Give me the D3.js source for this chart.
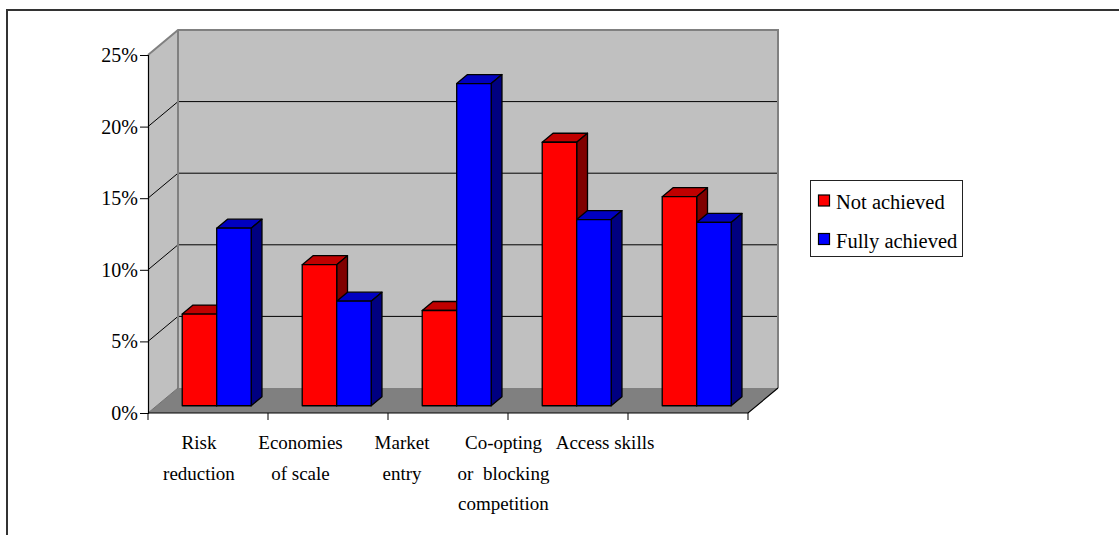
<!DOCTYPE html>
<html>
<head>
<meta charset="utf-8">
<script src="https://cdn.jsdelivr.net/npm/d3@7"></script>
<style>
  html, body { margin: 0; padding: 0; background: #fff; }
  svg { display: block; }
  text { font-family: "Liberation Serif", "DejaVu Serif", serif; fill: #000; }
</style>
</head>
<body>
<svg id="chart" width="1119" height="535"></svg>
<script>
// Motives for alliances: share of cases by outcome
const categories = ["Risk reduction", "Economies of scale", "Market entry", "Co-opting or blocking competition", "Access skills"];
const categoryLines = [["Risk", "reduction"], ["Economies", "of scale"], ["Market", "entry"], ["Co-opting", "or  blocking", "competition"], ["Access skills"]];
const seriesNames = ["Not achieved", "Fully achieved"];
const notAchieved = [6.4, 9.85, 6.65, 18.4, 14.6];
const fullyAchieved = [12.4, 7.3, 22.5, 13.0, 12.8];
const yTicks = [0, 5, 10, 15, 20, 25];

const svg = d3.select("#chart");

// Outer frame
svg.append("path")
  .attr("d", "M7,535 L7,10 L1119,10")
  .attr("fill", "none").attr("stroke", "#333").attr("stroke-width", 2);

// Front plane scales and 3D depth projection
const x = d3.scaleBand().domain(categories).range([148, 748]);
const y = d3.scaleLinear().domain([0, 25]).range([413, 55]);
const DX = 30, DY = -25;
const P = (px, py, t) => [px + DX * t, py + DY * t];
const poly = pts => "M" + pts.map(p => p.join(",")).join("L") + "Z";

const x0 = x.range()[0], x1 = x.range()[1];
const yMin = y(0), yMax = y(25);

// Walls and floor
const g = svg.append("g");
g.append("path").attr("d", poly([[x0, yMin], [x0, yMax], P(x0, yMax, 1), P(x0, yMin, 1)]))
  .attr("fill", "#c0c0c0");
g.append("path").attr("d", poly([P(x0, yMax, 1), P(x1, yMax, 1), P(x1, yMin, 1), P(x0, yMin, 1)]))
  .attr("fill", "#c0c0c0");
g.append("path").attr("d", poly([[x0, yMin], [x1, yMin], P(x1, yMin, 1), P(x0, yMin, 1)]))
  .attr("fill", "#808080");

// Gridlines on the side and back walls
yTicks.filter(v => v > 0 && v < 25).forEach(v => {
  const a = [x0, y(v)], b = P(x0, y(v), 1), c = P(x1, y(v), 1);
  g.append("path").attr("d", "M" + a + "L" + b + "L" + c)
    .attr("fill", "none").attr("stroke", "#000").attr("stroke-width", 1);
});

// Wall edges
g.append("path").attr("d", "M" + [x0, yMax] + "L" + P(x0, yMax, 1) + "L" + P(x1, yMax, 1) + "L" + P(x1, yMin, 1))
  .attr("fill", "none").attr("stroke", "#808080").attr("stroke-width", 2);
g.append("path").attr("d", "M" + P(x0, yMax, 1) + "L" + P(x0, yMin, 1))
  .attr("fill", "none").attr("stroke", "#808080").attr("stroke-width", 2);
g.append("path").attr("d", "M" + [x0, yMin] + "L" + P(x0, yMin, 1))
  .attr("fill", "none").attr("stroke", "#707070").attr("stroke-width", 1);

// Front floor edge and right floor edge
g.append("path").attr("d", "M" + [x0, yMin] + "L" + [x1, yMin] + "L" + P(x1, yMin, 1))
  .attr("fill", "none").attr("stroke", "#000").attr("stroke-width", 1.2);

// Value axis
const yAxis = d3.axisLeft(y).tickValues(yTicks).tickSize(8).tickPadding(2).tickFormat(d => d + "%");
const ya = svg.append("g").attr("transform", `translate(${x0},0)`).call(yAxis);
ya.select(".domain").attr("stroke", "#000").attr("stroke-width", 1.2);
ya.selectAll(".tick line").attr("stroke", "#000");
ya.selectAll("text").attr("font-size", 20).attr("font-family", "Liberation Serif, serif").attr("fill", "#000");

// Category ticks at band boundaries
svg.append("g").selectAll("line")
  .data(categories.map(c => x(c)).concat([x1]))
  .join("line")
  .attr("x1", d => d).attr("x2", d => d)
  .attr("y1", yMin).attr("y2", yMin + 7)
  .attr("stroke", "#000").attr("stroke-width", 1);

// Bars
const inner = d3.scaleBand().domain(seriesNames).range([0, x.bandwidth()]).paddingOuter(0.74).paddingInner(0);
const tFront = 0.29, tBack = 0.65;
const palette = {
  "Not achieved": { front: "#ff0000", top: "#c00000", side: "#800000" },
  "Fully achieved": { front: "#0000ff", top: "#0000c0", side: "#000080" }
};
const barData = [];
categories.forEach((c, i) => {
  barData.push({ cat: c, s: seriesNames[0], v: notAchieved[i] });
  barData.push({ cat: c, s: seriesNames[1], v: fullyAchieved[i] });
});

const bars = svg.append("g").selectAll("g").data(barData).join("g");
bars.each(function (d) {
  const gb = d3.select(this);
  const l = x(d.cat) + inner(d.s), r = l + inner.bandwidth();
  const top = y(d.v), bot = y(0);
  const col = palette[d.s];
  const st = { stroke: "#000", "stroke-width": 1.3, "stroke-linejoin": "round" };
  const add = (pts, fill) => {
    const p = gb.append("path").attr("d", poly(pts)).attr("fill", fill);
    Object.entries(st).forEach(([k, v]) => p.attr(k, v));
  };
  // top face
  add([P(l, top, tFront), P(r, top, tFront), P(r, top, tBack), P(l, top, tBack)], col.top);
  // right side face
  add([P(r, top, tFront), P(r, top, tBack), P(r, bot, tBack), P(r, bot, tFront)], col.side);
  // front face
  add([P(l, top, tFront), P(r, top, tFront), P(r, bot, tFront), P(l, bot, tFront)], col.front);
});

// Category labels
const labelX = d3.scalePoint().domain(categories).range([199, 605]);
const lab = svg.append("g").selectAll("text").data(categories).join("text")
  .attr("x", d => labelX(d))
  .attr("y", 449)
  .attr("text-anchor", "middle")
  .attr("font-size", 19)
  .style("white-space", "pre");
lab.each(function (d, i) {
  d3.select(this).selectAll("tspan").data(categoryLines[i]).join("tspan")
    .attr("x", labelX(d))
    .attr("dy", (t, j) => j === 0 ? 0 : 30.5)
    .text(t => t);
});

// Legend
const lg = svg.append("g");
lg.append("rect").attr("x", 810.5).attr("y", 180.5).attr("width", 152).attr("height", 76)
  .attr("fill", "#fff").attr("stroke", "#222").attr("stroke-width", 1);
seriesNames.forEach((s, i) => {
  const yy = 195 + i * 38.5;
  lg.append("rect").attr("x", 818.5).attr("y", yy).attr("width", 11).attr("height", 11)
    .attr("fill", palette[s].front).attr("stroke", "#000").attr("stroke-width", 1.2);
  lg.append("text").attr("x", 836).attr("y", yy + 14).attr("font-size", 20.5).text(s);
});
</script>
</body>
</html>
